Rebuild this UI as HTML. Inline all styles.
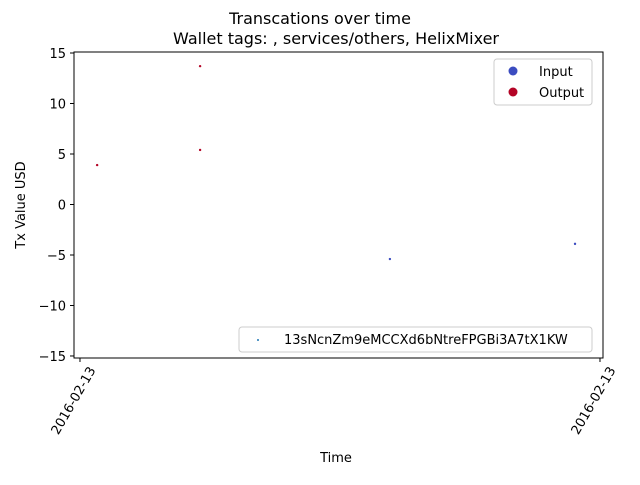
<!DOCTYPE html>
<html><head><meta charset="utf-8"><style>
body{margin:0;background:#fff}
text{font-family:"DejaVu Sans","Liberation Sans",sans-serif;fill:#000}
</style></head><body>
<svg id="chart" width="640" height="480" xmlns="http://www.w3.org/2000/svg">
<text x="320" y="24" text-anchor="middle" font-size="16">Transcations over time</text>
<text x="336" y="44" text-anchor="middle" font-size="16">Wallet tags: , services/others, HelixMixer</text>
<rect x="74" y="52" width="529" height="306" fill="none" stroke="#000" stroke-width="1"/>
<g id="yticks"></g><g id="xticks"></g><g id="points"></g>
<text transform="translate(25,205) rotate(-90)" text-anchor="middle" font-size="13">Tx Value USD</text>
<text x="336" y="462" text-anchor="middle" font-size="13">Time</text>
<g>
<rect x="494" y="59" width="98" height="46" rx="3" fill="#fff" stroke="#ccc"/>
<circle cx="513" cy="71" r="4.5" fill="#3b4cc0"/>
<text x="539" y="76" font-size="13">Input</text>
<circle cx="513" cy="92" r="4.5" fill="#b40426"/>
<text x="539" y="97" font-size="13">Output</text>
</g>
<g>
<rect x="239" y="327" width="353" height="25" rx="3" fill="#fff" stroke="#ccc"/>
<circle cx="258" cy="340" r="1" fill="#1f77b4"/>
<text x="284" y="344" font-size="13">13sNcnZm9eMCCXd6bNtreFPGBi3A7tX1KW</text>
</g>
</svg>
<script>
const yTicks=[15,10,5,0,-5,-10,-15];
const xTickPos=[0,1];
const xTickLabels=["2016-02-13","2016-02-13"];
const times=[0.033,0.231,0.231,0.596,0.952];
const values=[3.9,13.7,5.4,-5.4,-3.9];
const kinds=["Output","Output","Output","Input","Input"];
const NS="http://www.w3.org/2000/svg";
const X0=-0.0115,X1=1.0058,Y0=-15.2,Y1=15.1;
const sx=v=>74+(v-X0)/(X1-X0)*529;
const sy=v=>358-(v-Y0)/(Y1-Y0)*306;
function mk(t,a,p){const e=document.createElementNS(NS,t);for(const k in a)e.setAttribute(k,a[k]);p.appendChild(e);return e;}
const yg=document.getElementById('yticks');
yTicks.forEach(v=>{const y=sy(v);
const l=mk('line',{x1:70,x2:74,y1:y,y2:y,stroke:'#000'},yg);


const t=mk('text',{x:66,y:y+5,'text-anchor':'end','font-size':13},yg);
t.textContent=v<0?'\u2212'+(-v):String(v);

});
const xg=document.getElementById('xticks');
xTickPos.forEach((v,i)=>{const x=sx(v);
const l=mk('line',{x1:x,x2:x,y1:358,y2:362,stroke:'#000'},xg);


const t=mk('text',{transform:`translate(${x+16},${370}) rotate(-60)`,'text-anchor':'end','font-size':13},xg);
t.textContent=xTickLabels[i];

});
const pg=document.getElementById('points');
times.forEach((tv,i)=>{const c=mk('circle',{cx:sx(tv),cy:sy(values[i]),r:1.2,fill:kinds[i]==='Input'?'#3b4cc0':'#b40426'},pg);

});
</script>
</body></html>
